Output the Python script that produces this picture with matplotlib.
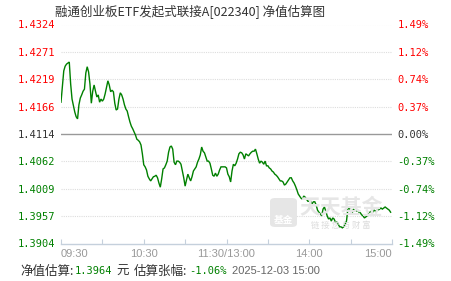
import matplotlib
matplotlib.use('Agg')
import matplotlib.pyplot as plt
from matplotlib.patches import FancyBboxPatch
from matplotlib.ticker import FixedLocator
import numpy as np

# ---------------- data ----------------
title = "融通创业板ETF发起式联接A[022340] 净值估算图"
prev_nav = 1.4114
nav = [
    1.4175, 1.4204, 1.4235, 1.4244, 1.4248, 1.4250, 1.4252, 1.4210, 1.4181, 1.4168,
    1.4156, 1.4147, 1.4143, 1.4170, 1.4183, 1.4189, 1.4196, 1.4200, 1.4231, 1.4243,
    1.4233, 1.4210, 1.4173, 1.4196, 1.4208, 1.4196, 1.4185, 1.4189, 1.4175, 1.4181,
    1.4177, 1.4181, 1.4191, 1.4204, 1.4216, 1.4208, 1.4195, 1.4198, 1.4195, 1.4173,
    1.4160, 1.4162, 1.4181, 1.4193, 1.4189, 1.4181, 1.4170, 1.4162, 1.4158, 1.4147,
    1.4137, 1.4129, 1.4124, 1.4118, 1.4112, 1.4104, 1.4102, 1.4099, 1.4093, 1.4076,
    1.4055, 1.4051, 1.4045, 1.4033, 1.4028, 1.4024, 1.4028, 1.4032, 1.4033, 1.4035,
    1.4030, 1.4020, 1.4012, 1.4028, 1.4047, 1.4049, 1.4055, 1.4062, 1.4079, 1.4089,
    1.4091, 1.4085, 1.4060, 1.4055, 1.4062, 1.4062, 1.4060, 1.4056, 1.4043, 1.4030,
    1.4014, 1.4026, 1.4037, 1.4030, 1.4024, 1.4032, 1.4043, 1.4047, 1.4051, 1.4060,
    1.4066, 1.4074, 1.4089, 1.4081, 1.4078, 1.4070, 1.4062, 1.4062, 1.4058, 1.4047,
    1.4035, 1.4033, 1.4039, 1.4033, 1.4037, 1.4045, 1.4051, 1.4051, 1.4051, 1.4051,
    1.4049, 1.4037, 1.4032, 1.4022, 1.4043, 1.4056, 1.4053, 1.4058, 1.4066, 1.4076,
    1.4079, 1.4078, 1.4074, 1.4066, 1.4076, 1.4074, 1.4072, 1.4076, 1.4079, 1.4081,
    1.4081, 1.4085, 1.4076, 1.4066, 1.4058, 1.4062, 1.4060, 1.4056, 1.4062, 1.4053,
    1.4053, 1.4049, 1.4047, 1.4043, 1.4041, 1.4037, 1.4035, 1.4032, 1.4028, 1.4024,
    1.4024, 1.4022, 1.4016, 1.4018, 1.4022, 1.4026, 1.4030, 1.4030, 1.4024, 1.4020,
    1.4014, 1.4007, 1.3999, 1.3995, 1.3991, 1.3989, 1.3995, 1.3993, 1.3989, 1.3985,
    1.3985, 1.3985, 1.3980, 1.3984, 1.3984, 1.3978, 1.3968, 1.3964, 1.3961, 1.3957,
    1.3970, 1.3974, 1.3966, 1.3957, 1.3951, 1.3953, 1.3947, 1.3953, 1.3951, 1.3945,
    1.3945, 1.3941, 1.3936, 1.3936, 1.3934, 1.3936, 1.3941, 1.3947, 1.3970, 1.3974,
    1.3966, 1.3961, 1.3970, 1.3966, 1.3966, 1.3968, 1.3964, 1.3963, 1.3959, 1.3957,
    1.3953, 1.3955, 1.3957, 1.3963, 1.3964, 1.3966, 1.3964, 1.3968, 1.3966, 1.3968,
    1.3968, 1.3970, 1.3972, 1.3970, 1.3972, 1.3974, 1.3972, 1.3970, 1.3968, 1.3964,
]
minutes = np.arange(len(nav))          # trading minutes since 09:30 (lunch break removed)
session_minutes = 240

left_ticks = [1.4324, 1.4271, 1.4219, 1.4166, 1.4114, 1.4062, 1.4009, 1.3957, 1.3904]
right_labels = ["1.49%", "1.12%", "0.74%", "0.37%", "0.00%", "-0.37%", "-0.74%", "-1.12%", "-1.49%"]
x_major = [0, 60, 120, 180, 240]
x_minor = [30, 90, 150, 210]
x_labels = ["09:30", "10:30", "11:30/13:00", "14:00", "15:00"]

est_nav = "1.3964"
est_change = "-1.06%"
est_time = "2025-12-03 15:00"

# ---------------- style ----------------
RED = "#ff0000"
GREEN = "#008000"
DARK = "#333333"
W, H = 451, 281

plt.rcParams['font.family'] = ['Noto Sans CJK SC', 'DejaVu Sans']

fig = plt.figure(figsize=(W / 100, H / 100), dpi=100)
ax = fig.add_axes([61 / W, 1 - 243.5 / H, (392 - 61) / W, (243.5 - 24.5) / H])
ax.set_xlim(0, session_minutes)
ax.set_ylim(left_ticks[-1], left_ticks[0])

# watermark (天天基金 logo)
logo = FancyBboxPatch((270 / W, 1 - 227 / H), 27 / W, 29 / H,
                      boxstyle="round,pad=0,rounding_size=0.012",
                      transform=fig.transFigure, facecolor="#e6e6e6",
                      edgecolor="none", zorder=0)
fig.patches.append(logo)
fig.text(283.5 / W, 1 - 220 / H, "基金", color="white", fontsize=7,
         ha="center", va="center", fontweight="bold", zorder=1)
fig.text(341 / W, 1 - 207 / H, "天天基金", color="#e6e6e6", fontsize=15,
         ha="center", va="center", fontweight="bold", zorder=1)
fig.text(341 / W, 1 - 225 / H, "链 接 您 与 财 富", color="#dcdcdc", fontsize=6,
         ha="center", va="center", zorder=1)
ax.patch.set_alpha(0)

# grid lines
for v in left_ticks:
    if abs(v - prev_nav) < 1e-9:
        ax.axhline(v, color="#999999", lw=1.0, zorder=2)
    elif v != left_ticks[-1]:
        ax.axhline(v, color="#dddddd", lw=0.8, ls=(0, (1, 1)), zorder=2)

# line
ax.plot(minutes, nav, color=GREEN, lw=1.0, zorder=3, solid_joinstyle="miter")

# spines
for s in ["top", "right", "left"]:
    ax.spines[s].set_visible(False)
ax.spines["bottom"].set_color("#c5d0dc")
ax.spines["bottom"].set_linewidth(1.0)

# x ticks
ax.xaxis.set_major_locator(FixedLocator(x_major))
ax.xaxis.set_minor_locator(FixedLocator(x_minor))
ax.set_xticklabels(x_labels)
ax.tick_params(axis="x", which="both", direction="in", length=3.5, width=0.8,
               color="#c5d0dc", labelsize=8, labelcolor="#999999", pad=4)
for lab in ax.get_xticklabels():
    lab.set_fontfamily("Liberation Sans")
xl = ax.get_xticklabels()
xl[0].set_ha("left")
xl[-1].set_ha("right")

# y ticks (left: NAV, right: percent)
ax.set_yticks(left_ticks)
ax.set_yticklabels([f"{v:.4f}" for v in left_ticks])
ax.tick_params(axis="y", which="both", length=0, pad=4, labelsize=7.5)
for v, lab in zip(left_ticks, ax.get_yticklabels()):
    lab.set_fontfamily("DejaVu Sans Mono")
    lab.set_color(RED if v > prev_nav + 1e-9 else (GREEN if v < prev_nav - 1e-9 else DARK))

ax2 = ax.twinx()
ax2.set_ylim(ax.get_ylim())
ax2.set_yticks(left_ticks)
ax2.set_yticklabels(right_labels)
for s in ["top", "right", "left", "bottom"]:
    ax2.spines[s].set_visible(False)
ax2.tick_params(axis="y", length=0, pad=4, labelsize=7.5)
for v, lab in zip(left_ticks, ax2.get_yticklabels()):
    lab.set_fontfamily("DejaVu Sans Mono")
    lab.set_color(RED if v > prev_nav + 1e-9 else (GREEN if v < prev_nav - 1e-9 else DARK))

# title
fig.text(190 / W, 1 - 12 / H, title, color=DARK, fontsize=9, ha="center", va="center")

# bottom info line
yb = 1 - 271 / H
fig.text(20 / W, yb, "净值估算:", color=DARK, fontsize=9, ha="left", va="center")
fig.text(75 / W, yb, est_nav, color=GREEN, fontsize=7.5, family="DejaVu Sans Mono", ha="left", va="center")
fig.text(116 / W, yb, "元", color=DARK, fontsize=9, ha="left", va="center")
fig.text(134 / W, yb, "估算张幅:", color=DARK, fontsize=9, ha="left", va="center")
fig.text(189 / W, yb, est_change, color=GREEN, fontsize=7.5, family="DejaVu Sans Mono", ha="left", va="center")
fig.text(232 / W, yb, est_time, color="#666666", fontsize=8, family="Liberation Sans", ha="left", va="center")

fig.savefig("out.png", dpi=100)
